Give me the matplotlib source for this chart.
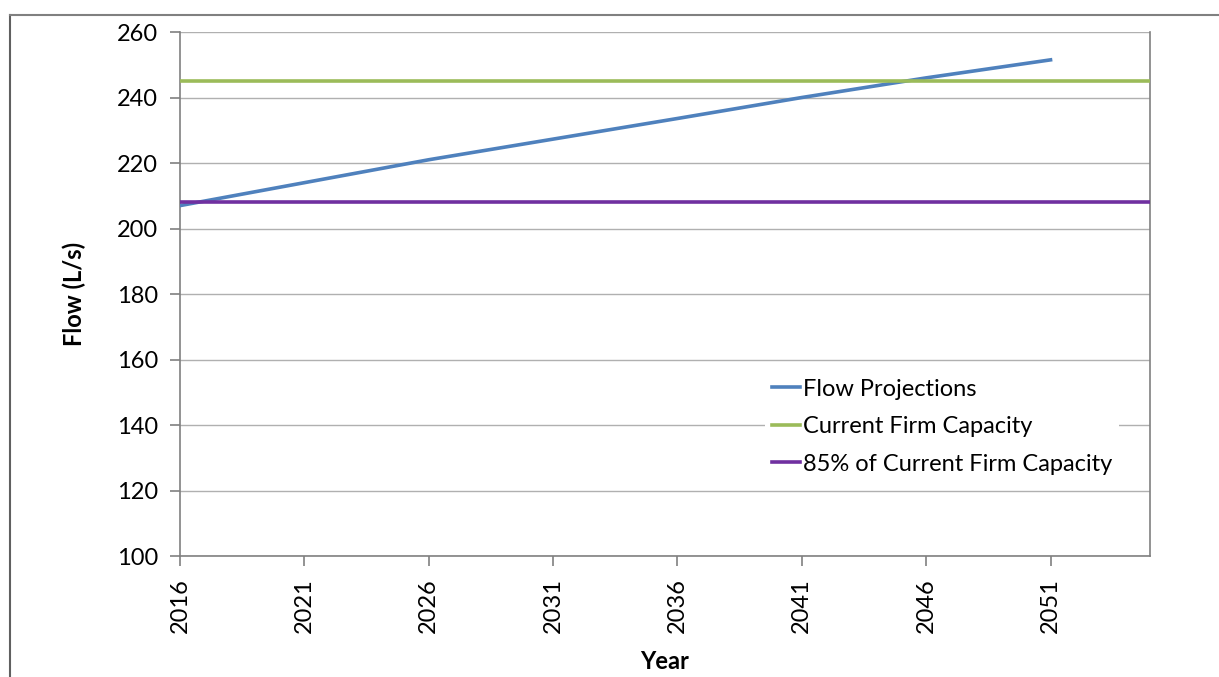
import matplotlib
matplotlib.use("Agg")
import matplotlib.pyplot as plt
from matplotlib.lines import Line2D

plt.rcParams['font.family'] = ['Lato', 'DejaVu Sans']

# data
years = [2016, 2021, 2026, 2031, 2036, 2041, 2046, 2051]
flow = [207.0, 214.0, 221.0, 227.3, 233.6, 240.0, 246.0, 251.5]
cap_years = [2016, 2055]
firm_capacity = [245.0, 245.0]
firm_85 = [208.25, 208.25]

tick_years = [2016, 2021, 2026, 2031, 2036, 2041, 2046, 2051]
y_ticks = [100, 120, 140, 160, 180, 200, 220, 240, 260]

fig = plt.figure(figsize=(12.19, 6.77), dpi=100)
ax = fig.add_axes([0.1477, 0.1787, 0.7957, 0.774])

ax.plot(years, flow, color='#4f81bd', lw=2.6, label='Flow Projections', zorder=3)
ax.plot(cap_years, firm_capacity, color='#9bbb59', lw=2.6, label='Current Firm Capacity', zorder=3)
ax.plot(cap_years, firm_85, color='#7030a0', lw=2.6, label='85% of Current Firm Capacity', zorder=3)

ax.set_xlim(2016, 2055)
ax.set_ylim(100, 260)
ax.set_xticks(tick_years)
ax.set_xticklabels([str(y) for y in tick_years], rotation=90, fontsize=17)
ax.set_yticks(y_ticks)
ax.set_yticklabels([str(v) for v in y_ticks], fontsize=17)

ax.yaxis.grid(True, color='#b0b0b0', lw=1)
ax.set_axisbelow(True)
for side in ['left', 'bottom', 'right']:
    ax.spines[side].set_color('#808080')
    ax.spines[side].set_linewidth(1.2)
ax.spines['top'].set_visible(False)
ax.tick_params(axis='both', direction='out', length=7, color='#808080', width=1.2, pad=9)

ax.set_ylabel('Flow (L/s)', fontsize=17, fontweight='bold', labelpad=22)
ax.set_xlabel('Year', fontsize=17, fontweight='bold', labelpad=12)

leg = ax.legend(loc='upper left', bbox_to_anchor=(0.603, 0.352), fontsize=17,
                frameon=True, framealpha=1, facecolor='white', edgecolor='none',
                handlelength=1.2, handletextpad=0.1, labelspacing=0.7,
                borderaxespad=0, borderpad=0.3, fancybox=False)

# outer frame of the original picture
fig.add_artist(Line2D([10 / 1219, 10 / 1219], [0, 1 - 15 / 677], color='#606060', lw=1.5))
fig.add_artist(Line2D([10 / 1219, 1], [1 - 15 / 677, 1 - 15 / 677], color='#808080', lw=1.5))

fig.savefig('out.png', dpi=100)
